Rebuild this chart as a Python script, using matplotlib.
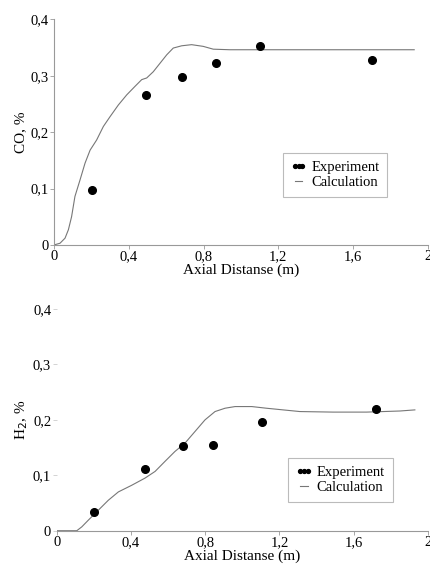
import matplotlib.pyplot as plt
from matplotlib.lines import Line2D

plt.rcParams['font.family'] = ['Liberation Serif', 'DejaVu Serif']

# CO panel
co_exp_x = [0.205, 0.49, 0.684, 0.868, 1.10, 1.70]
co_exp_y = [0.097, 0.266, 0.297, 0.322, 0.352, 0.327]
co_calc_x = [0.0, 0.032, 0.059, 0.077, 0.094, 0.112, 0.139, 0.166, 0.193,
             0.228, 0.264, 0.299, 0.344, 0.389, 0.433, 0.469, 0.496, 0.531,
             0.567, 0.603, 0.638, 0.683, 0.736, 0.798, 0.852, 0.941, 1.2,
             1.6, 1.927]
co_calc_y = [0.0, 0.003, 0.012, 0.027, 0.050, 0.086, 0.115, 0.145, 0.168,
             0.186, 0.210, 0.227, 0.248, 0.266, 0.281, 0.293, 0.296, 0.307,
             0.322, 0.337, 0.349, 0.353, 0.355, 0.352, 0.347, 0.346, 0.346,
             0.346, 0.346]

# H2 panel
h2_exp_x = [0.199, 0.476, 0.679, 0.844, 1.104, 1.719]
h2_exp_y = [0.034, 0.111, 0.152, 0.155, 0.197, 0.220]
h2_calc_x = [0.0, 0.108, 0.135, 0.170, 0.224, 0.278, 0.332, 0.404, 0.476,
             0.530, 0.583, 0.637, 0.691, 0.745, 0.799, 0.853, 0.907, 0.961,
             1.051, 1.13, 1.31, 1.49, 1.67, 1.85, 1.93]
h2_calc_y = [0.0, 0.0, 0.007, 0.019, 0.037, 0.055, 0.070, 0.082, 0.095,
             0.107, 0.125, 0.143, 0.158, 0.179, 0.200, 0.215, 0.221, 0.224,
             0.224, 0.221, 0.215, 0.214, 0.214, 0.216, 0.218]

xticks = [0, 0.4, 0.8, 1.2, 1.6, 2]
xlabels = ['0', '0,4', '0,8', '1,2', '1,6', '2']
yticks = [0, 0.1, 0.2, 0.3, 0.4]
ylabels = ['0', '0,1', '0,2', '0,3', '0,4']

fig = plt.figure(figsize=(4.3, 5.67), dpi=100)
ax1 = fig.add_axes([0.1256, 0.568, 0.8694, 0.398])
ax2 = fig.add_axes([0.132, 0.064, 0.863, 0.391])

handles = [Line2D([], [], color='black', marker='o', linestyle='none',
                  markersize=2.8),
           Line2D([], [], color='#777777', linewidth=0.8)]

for ax, ex, ey, cx, cy, ylab, leg_anchor in [
        (ax1, co_exp_x, co_exp_y, co_calc_x, co_calc_y, 'CO, %', (0.612, 0.212)),
        (ax2, h2_exp_x, h2_exp_y, h2_calc_x, h2_calc_y, 'H$_2$, %', (0.623, 0.13))]:
    ax.plot(cx, cy, color='#777777', linewidth=0.8)
    ax.plot(ex, ey, 'o', color='black', markersize=5.5)
    ax.set_xlim(0, 2)
    ax.set_ylim(0, 0.4)
    ax.set_xticks(xticks)
    ax.set_xticklabels(xlabels)
    ax.set_yticks(yticks)
    ax.set_yticklabels(ylabels)
    ax.tick_params(labelsize=10.5, length=3, width=0.6, color='#999999', pad=1)
    ax.spines['top'].set_visible(False)
    ax.spines['right'].set_visible(False)
    for s in ['left', 'bottom']:
        ax.spines[s].set_color('#999999')
        ax.spines[s].set_linewidth(0.8)
    ax.set_xlabel('Axial Distanse (m)', fontsize=11, labelpad=0)
    ax.set_ylabel(ylab, fontsize=11, labelpad=2)
    leg = ax.legend(handles, ['Experiment', 'Calculation'], numpoints=3,
                    loc='lower left', bbox_to_anchor=leg_anchor,
                    borderaxespad=0, fontsize=10.5, frameon=True,
                    fancybox=False, handlelength=1.1, handletextpad=0.3,
                    borderpad=0.55, labelspacing=0.1)
    leg.get_frame().set_edgecolor('#aaaaaa')
    leg.get_frame().set_linewidth(0.8)

ax2.spines['left'].set_visible(False)
ax2.tick_params(axis='y', color='#cccccc')

fig.savefig('out.png', dpi=100)
